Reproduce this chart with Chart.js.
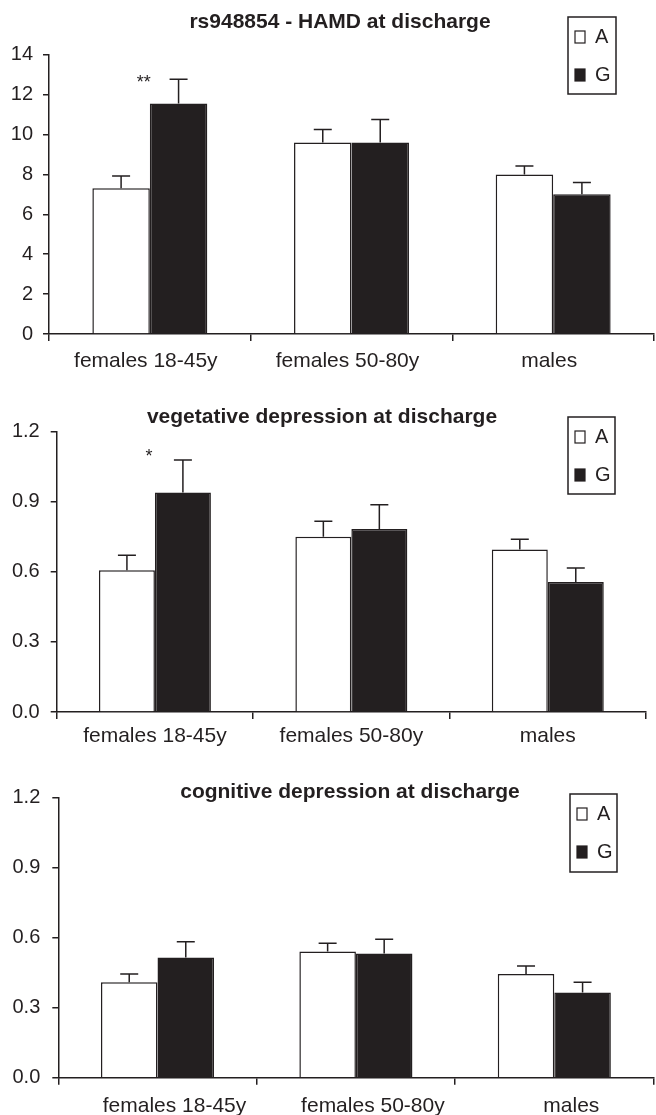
<!DOCTYPE html>
<html>
<head>
<meta charset="utf-8">
<script src="https://cdn.jsdelivr.net/npm/chart.js@4.4.1/dist/chart.umd.min.js"></script>
<style>
  html, body { margin: 0; padding: 0; background: #fff; }
  #wrap { position: relative; width: 656px; height: 1115px; overflow: hidden; }
  canvas { position: absolute; left: 0; }
</style>
</head>
<body>
<div id="wrap">
  <canvas id="hamd" width="656" height="372" style="top:0px"></canvas>
  <canvas id="veg" width="656" height="380" style="top:372px"></canvas>
  <canvas id="cog" width="656" height="363" style="top:752px"></canvas>
</div>
<script>
// categories and alleles shared by all three panels
const categories = ['females 18-45y', 'females 50-80y', 'males'];
const alleles = ['A', 'G'];

// HAMD total score
const hamdTitle = 'rs948854 - HAMD at discharge';
const hamdA = [7.3, 9.6, 8.0];
const hamdASe = [0.62, 0.65, 0.42];
const hamdG = [11.55, 9.6, 7.0];
const hamdGSe = [1.22, 1.15, 0.6];
const hamdStars = ['**', '', ''];
const hamdStarAt = [12.6, null, null];
const hamdYTicks = [0, 2, 4, 6, 8, 10, 12, 14];

// vegetative depression
const vegTitle = 'vegetative depression at discharge';
const vegA = [0.607, 0.75, 0.696];
const vegASe = [0.064, 0.067, 0.044];
const vegG = [0.94, 0.783, 0.557];
const vegGSe = [0.139, 0.104, 0.06];
const vegStars = ['*', '', ''];
const vegStarAt = [1.09, null, null];
const vegYTicks = [0, 0.3, 0.6, 0.9, 1.2];

// cognitive depression
const cogTitle = 'cognitive depression at discharge';
const cogA = [0.408, 0.54, 0.444];
const cogASe = [0.036, 0.035, 0.034];
const cogG = [0.514, 0.532, 0.365];
const cogGSe = [0.068, 0.06, 0.043];
const cogStars = ['', '', ''];
const cogStarAt = [null, null, null];
const cogYTicks = [0, 0.3, 0.6, 0.9, 1.2];

const DARK = '#231f20';
const FONT = "'Liberation Sans', Arial, Helvetica, sans-serif";

// error bars, significance stars, title and boxed legend
const panelDecor = {
  id: 'panelDecor',
  afterDatasetsDraw(chart, args, opts) {
    const ctx = chart.ctx;
    const ys = chart.scales.y;
    ctx.save();
    ctx.strokeStyle = DARK;
    ctx.lineWidth = 1.5;
    chart.data.datasets.forEach((ds, i) => {
      chart.getDatasetMeta(i).data.forEach((bar, j) => {
        const top = ys.getPixelForValue(ds.data[j] + ds.se[j]);
        ctx.beginPath();
        ctx.moveTo(bar.x, bar.y);
        ctx.lineTo(bar.x, top);
        ctx.moveTo(bar.x - opts.cap, top);
        ctx.lineTo(bar.x + opts.cap, top);
        ctx.stroke();
      });
    });
    ctx.fillStyle = DARK;
    ctx.font = '18px ' + FONT;
    ctx.textAlign = 'center';
    ctx.textBaseline = 'middle';
    opts.stars.forEach((s, j) => {
      if (!s) return;
      ctx.fillText(s, chart.scales.x.getPixelForValue(j) + opts.starDx, ys.getPixelForValue(opts.starAt[j]));
    });
    ctx.restore();
  },
  afterDraw(chart, args, opts) {
    const ctx = chart.ctx;
    ctx.save();
    ctx.fillStyle = DARK;
    ctx.font = 'bold 21px ' + FONT;
    ctx.textAlign = 'center';
    ctx.textBaseline = 'middle';
    ctx.fillText(opts.title, opts.titleX, opts.titleY);

    const b = opts.box;
    ctx.strokeStyle = DARK;
    ctx.lineWidth = 1.5;
    ctx.strokeRect(b.x, b.y, b.w, b.h);
    ctx.font = '20px ' + FONT;
    ctx.textAlign = 'left';
    chart.data.datasets.forEach((ds, i) => {
      const cy = b.y + 20 + i * 38;
      ctx.fillStyle = ds.backgroundColor;
      ctx.fillRect(b.x + 7, cy - 6, 10, 12);
      ctx.strokeStyle = DARK;
      ctx.lineWidth = 1.2;
      ctx.strokeRect(b.x + 7, cy - 6, 10, 12);
      ctx.fillStyle = DARK;
      ctx.fillText(ds.label, b.x + 27, cy);
    });
    ctx.restore();
  }
};

function makePanel(id, title, a, aSe, g, gSe, stars, starAt, yTicks, decimals, L) {
  new Chart(document.getElementById(id), {
    type: 'bar',
    data: {
      labels: categories,
      datasets: [
        { label: alleles[0], data: a, se: aSe, backgroundColor: '#ffffff', borderColor: DARK, borderWidth: 1.5 },
        { label: alleles[1], data: g, se: gSe, backgroundColor: DARK, borderColor: DARK, borderWidth: 1.5 }
      ]
    },
    options: {
      responsive: false,
      animation: false,
      devicePixelRatio: 1,
      categoryPercentage: 0.57,
      barPercentage: 1.0,
      layout: { padding: { top: L.top, right: L.right, left: 0, bottom: 0 } },
      plugins: {
        legend: { display: false },
        title: { display: false },
        tooltip: { enabled: false },
        panelDecor: {
          cap: 9, stars: stars, starAt: starAt, starDx: -6,
          title: title, titleX: L.titleX, titleY: L.titleY, box: L.box
        }
      },
      scales: {
        x: {
          grid: { drawOnChartArea: false, drawTicks: true, tickLength: 7, color: DARK, lineWidth: 1.5, offset: true },
          border: { display: true, color: DARK, width: 1.5 },
          ticks: { font: { family: FONT, size: 21 }, color: DARK, padding: L.xPad, labelOffset: L.labelDx, maxRotation: 0, autoSkip: false },
          afterFit: (s) => { s.height = L.xHeight; }
        },
        y: {
          min: yTicks[0],
          max: yTicks[yTicks.length - 1],
          grid: { drawOnChartArea: false, drawTicks: true, tickLength: 6, color: DARK, lineWidth: 1.5 },
          border: { display: true, color: DARK, width: 1.5 },
          ticks: { font: { family: FONT, size: 20 }, color: DARK, padding: L.yPad, callback: (v) => v.toFixed(decimals) },
          afterBuildTicks: (s) => { s.ticks = yTicks.map((v) => ({ value: v })); },
          afterFit: (s) => { s.width = L.yWidth; }
        }
      }
    },
    plugins: [panelDecor]
  });
}

makePanel('hamd', hamdTitle, hamdA, hamdASe, hamdG, hamdGSe, hamdStars, hamdStarAt, hamdYTicks, 0, {
  top: 54.7, right: 2, yWidth: 49, xHeight: 38, xPad: 8, labelDx: -4, yPad: 10,
  titleX: 340, titleY: 22, box: { x: 568, y: 17, w: 48, h: 77 }
});
makePanel('veg', vegTitle, vegA, vegASe, vegG, vegGSe, vegStars, vegStarAt, vegYTicks, 1, {
  top: 59.7, right: 10, yWidth: 56.7, xHeight: 40, xPad: 5, labelDx: 0, yPad: 11,
  titleX: 322, titleY: 45, box: { x: 568, y: 45, w: 47, h: 77 }
});
makePanel('cog', cogTitle, cogA, cogASe, cogG, cogGSe, cogStars, cogStarAt, cogYTicks, 1, {
  top: 45.3, right: 2.5, yWidth: 58.3, xHeight: 37.3, xPad: 9, labelDx: 17, yPad: 12,
  titleX: 350, titleY: 40, box: { x: 570, y: 42, w: 47, h: 78 }
});
</script>
</body>
</html>
